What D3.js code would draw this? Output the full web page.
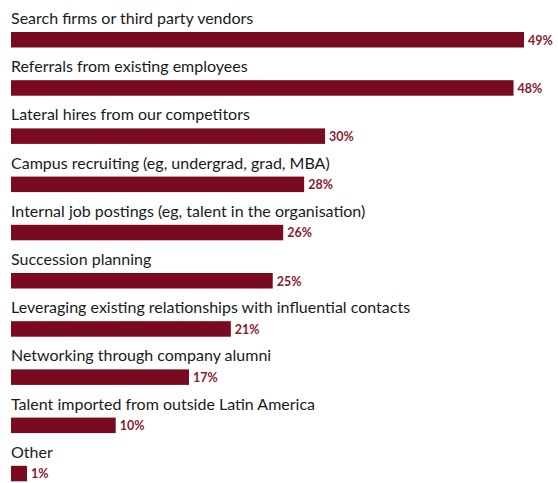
<!DOCTYPE html>
<html>
<head>
<meta charset="utf-8">
<script src="https://cdn.jsdelivr.net/npm/d3@7"></script>
<style>
  html, body { margin: 0; padding: 0; background: #fff; }
  svg { display: block; }
</style>
</head>
<body>
<svg id="chart" width="558" height="483"></svg>
<script>
// Recruitment channels and share of respondents using each (%)
const categories = [
  "Search firms or third party vendors",
  "Referrals from existing employees",
  "Lateral hires from our competitors",
  "Campus recruiting (eg, undergrad, grad, MBA)",
  "Internal job postings (eg, talent in the organisation)",
  "Succession planning",
  "Leveraging existing relationships with influential contacts",
  "Networking through company alumni",
  "Talent imported from outside Latin America",
  "Other"
];
const values = [49, 48, 30, 28, 26, 25, 21, 17, 10, 1];

const svg = d3.select("#chart");
const barColor = "#7a0a1f";
const labelColor = "#8a1a2c";

const x = d3.scaleLinear().domain([0, 49]).range([11, 524]);
const y = d3.scaleBand().domain(categories).range([8, 8 + 48.2 * categories.length]).padding(0);

const rows = svg.selectAll("g.row")
  .data(categories.map((c, i) => ({ name: c, value: values[i] })))
  .join("g")
  .attr("class", "row")
  .attr("transform", d => `translate(0,${y(d.name)})`);

rows.append("text")
  .attr("x", 11)
  .attr("y", 16)
  .attr("font-family", "Lato, 'Open Sans', sans-serif")
  .attr("font-size", 16)
  .attr("fill", "#1a1a1a")
  .text(d => d.name);

rows.append("rect")
  .attr("x", x(0))
  .attr("y", 24)
  .attr("width", d => Math.max(16, x(d.value) - x(0)))
  .attr("height", 15.5)
  .attr("fill", barColor);

rows.append("text")
  .attr("x", d => x(0) + Math.max(16, x(d.value) - x(0)) + 4)
  .attr("y", 36.5)
  .attr("font-family", "Lato, 'Open Sans', sans-serif")
  .attr("font-size", 12.5)
  .attr("font-weight", "bold")
  .attr("fill", labelColor)
  .text(d => d.value + "%");
</script>
</body>
</html>
